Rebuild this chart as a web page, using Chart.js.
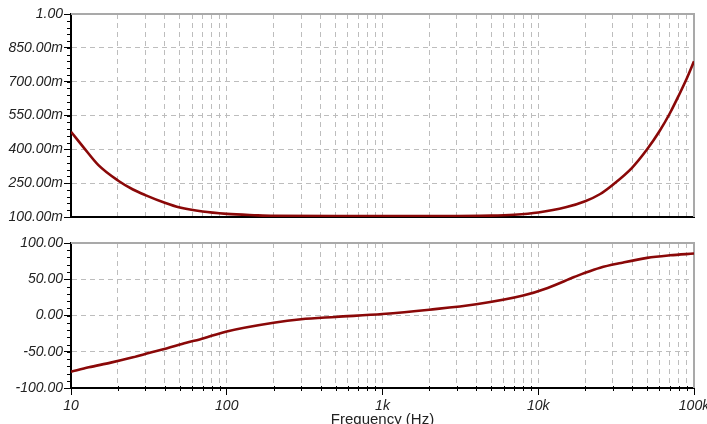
<!DOCTYPE html>
<html>
<head>
<meta charset="utf-8">
<script src="https://cdn.jsdelivr.net/npm/chart.js@4/dist/chart.umd.min.js"></script>
<style>
  html, body { margin: 0; padding: 0; background: #fff; overflow: hidden; width: 707px; height: 424px; }
  canvas { position: absolute; left: 0; }
  #mag-chart { top: 0; }
  #phase-chart { top: 230px; }
</style>
</head>
<body>
<canvas id="mag-chart" width="707" height="230"></canvas>
<canvas id="phase-chart" width="707" height="210"></canvas>
<script>
  // magnitude (upper panel)
  const MAG_FREQ = [10, 12, 15, 20, 25, 30, 40, 50, 70, 100, 150, 200, 500, 1000, 2000, 5000, 7000, 10000, 15000, 20000, 25000, 30000, 40000, 50000, 60000, 70000, 80000, 90000, 100000];
  const MAG_VALUES = [0.478, 0.41, 0.33, 0.262, 0.222, 0.197, 0.163, 0.142, 0.124, 0.114, 0.108, 0.105, 0.104, 0.104, 0.104, 0.106, 0.11, 0.12, 0.143, 0.17, 0.202, 0.242, 0.318, 0.40, 0.48, 0.56, 0.64, 0.715, 0.79];

  // phase (lower panel)
  const PHASE_FREQ = [10, 13, 18, 25, 32, 41, 55, 67, 100, 200, 300, 500, 1000, 2000, 4000, 8000, 11500, 17000, 20000, 25000, 34000, 50000, 70000, 100000];
  const PHASE_VALUES = [-77.5, -71.5, -65, -57.7, -51.5, -45.5, -37.5, -33, -22, -10, -5.2, -2, 2, 8, 15.5, 27.5, 38, 53, 59, 66, 72.5, 79.5, 83, 85.5];

  // axes
  const DECADES = [10, 100, 1000, 10000, 100000];
  const DECADE_LABELS = ["10", "100", "1k", "10k", "100k"];
  const GRID_STEPS = [1, 2, 3, 4, 5, 6, 7, 8, 9];
  const MAG_TICKS = [0.1, 0.25, 0.4, 0.55, 0.7, 0.85, 1.0];
  const MAG_TICK_LABELS = ["100.00m", "250.00m", "400.00m", "550.00m", "700.00m", "850.00m", "1.00"];
  const PHASE_TICKS = [-100, -50, 0, 50, 100];
  const PHASE_TICK_LABELS = ["-100.00", "-50.00", "0.00", "50.00", "100.00"];

  const LINE_COLOR = "#8a0808";
  const GRID_COLOR = "#bdbdbd";
  const TEXT_COLOR = "#222";
  const TICK_FONT = { family: "'Liberation Sans', Arial, sans-serif", size: 14, style: "italic" };

  const GRID_FREQS = [];
  DECADES.slice(0, -1).forEach((d) => GRID_STEPS.forEach((s) => GRID_FREQS.push(d * s)));
  GRID_FREQS.push(DECADES[DECADES.length - 1]);

  function toPoints(xs, ys) {
    return xs.map((x, i) => ({ x: x, y: ys[i] }));
  }

  // gray top/right frame plus the small minor ticks along the axes
  const framePlugin = {
    id: "frame",
    beforeDatasetsDraw(chart, args, opts) {
      const { ctx, chartArea: a } = chart;
      const y = chart.scales.y;
      const x = chart.scales.x;
      ctx.save();
      ctx.strokeStyle = "#a9a9a9";
      ctx.lineWidth = 2;
      ctx.beginPath();
      ctx.moveTo(a.left, a.top);
      ctx.lineTo(a.right, a.top);
      ctx.lineTo(a.right, a.bottom);
      ctx.stroke();

      ctx.strokeStyle = "#000";
      ctx.lineWidth = 1;
      const n = Math.round((y.max - y.min) / opts.minorStep);
      for (let i = 1; i < n; i++) {
        const py = Math.round(y.getPixelForValue(y.min + i * opts.minorStep)) + 0.5;
        ctx.beginPath();
        ctx.moveTo(a.left - 4, py);
        ctx.lineTo(a.left, py);
        ctx.stroke();
      }
      if (opts.xMinor) {
        x.ticks.forEach((t) => {
          if (DECADES.includes(t.value)) return;
          const px = Math.round(x.getPixelForValue(t.value)) + 0.5;
          ctx.beginPath();
          ctx.moveTo(px, a.bottom - 2);
          ctx.lineTo(px, a.bottom + 3);
          ctx.stroke();
        });
      }
      ctx.restore();
    },
  };

  function xScale(showLabels) {
    return {
      type: "logarithmic",
      min: 10,
      max: 100000,
      afterBuildTicks(scale) {
        scale.ticks = GRID_FREQS.map((v) => ({ value: v }));
      },
      afterFit(scale) {
        scale.height = showLabels ? 52 : 0;
        scale.paddingLeft = 0;
        scale.paddingRight = 0;
      },
      grid: {
        color: GRID_COLOR,
        lineWidth: 1,
        drawTicks: showLabels,
        tickLength: 7,
        tickWidth: 1,
        tickColor: (ctx) => (ctx.tick && DECADES.includes(ctx.tick.value) ? "#000" : "rgba(0,0,0,0)"),
      },
      border: { display: true, color: "#000", width: 2, dash: [5, 4] },
      ticks: {
        display: showLabels,
        autoSkip: false,
        maxRotation: 0,
        padding: 3,
        color: TEXT_COLOR,
        font: TICK_FONT,
        callback(value) {
          const i = DECADES.indexOf(value);
          return i >= 0 ? DECADE_LABELS[i] : "";
        },
      },
      title: {
        display: showLabels,
        text: "Frequency (Hz)",
        color: TEXT_COLOR,
        font: { family: "'Liberation Sans', Arial, sans-serif", size: 15 },
        padding: { top: 4, bottom: 11 },
      },
    };
  }

  function yScale(ticksArr, labelsArr) {
    return {
      type: "linear",
      min: ticksArr[0],
      max: ticksArr[ticksArr.length - 1],
      afterBuildTicks(scale) {
        scale.ticks = ticksArr.map((v) => ({ value: v }));
      },
      afterFit(scale) {
        scale.width = 71;
        scale.paddingTop = 0;
        scale.paddingBottom = 0;
      },
      grid: {
        color: GRID_COLOR,
        lineWidth: 1,
        drawTicks: true,
        tickLength: 7,
        tickColor: "#000",
        tickWidth: 1,
      },
      border: { display: true, color: "#000", width: 2, dash: [5, 4] },
      ticks: {
        padding: 1,
        color: TEXT_COLOR,
        font: TICK_FONT,
        callback(value, index) {
          return labelsArr[index];
        },
      },
    };
  }

  function makeChart(canvasId, points, ticksArr, labelsArr, showX, padding, minorStep) {
    return new Chart(document.getElementById(canvasId), {
      type: "line",
      data: {
        datasets: [{
          data: points,
          borderColor: LINE_COLOR,
          borderWidth: 2.6,
          pointRadius: 0,
          cubicInterpolationMode: "monotone",
          fill: false,
        }],
      },
      options: {
        responsive: false,
        animation: false,
        devicePixelRatio: 1,
        layout: { padding: padding },
        plugins: {
          legend: { display: false },
          tooltip: { enabled: false },
          frame: { minorStep: minorStep, xMinor: showX },
        },
        scales: {
          x: xScale(showX),
          y: yScale(ticksArr, labelsArr),
        },
      },
      plugins: [framePlugin],
    });
  }

  makeChart("mag-chart", toPoints(MAG_FREQ, MAG_VALUES), MAG_TICKS, MAG_TICK_LABELS, false,
    { top: 14, right: 13, bottom: 13, left: 0 }, 0.03);
  makeChart("phase-chart", toPoints(PHASE_FREQ, PHASE_VALUES), PHASE_TICKS, PHASE_TICK_LABELS, true,
    { top: 13, right: 13, bottom: 0, left: 0 }, 10);
</script>
</body>
</html>
